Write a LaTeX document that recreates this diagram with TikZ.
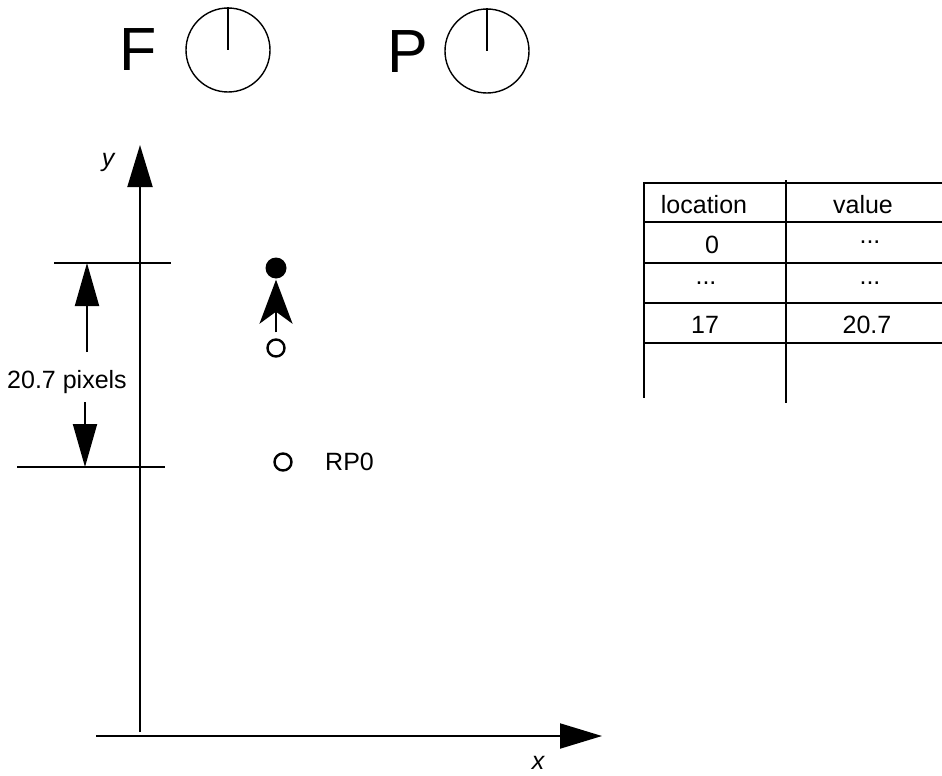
\documentclass[tikz,border=0pt]{standalone}
\usepackage{fontspec}
\setmainfont{Liberation Sans}
\usetikzlibrary{arrows.meta,calc,positioning}
\tikzset{
  label25/.style={
    inner sep=0pt,
    font=\fontsize{25}{30}\selectfont
  },
  bigletter/.style={
    inner sep=0pt,
    font=\fontsize{61}{70}\selectfont
  },
  dial/.style={
    circle,
    draw,
    line width=1.4pt,
    minimum size=84pt,
    inner sep=0pt
  },
  axis/.style={
    -{Triangle[length=42pt,width=25pt]},
    line width=2pt
  },
  dimarrow/.style={
    -{Triangle[length=43pt,width=24pt]},
    line width=2pt
  },
  movearrow/.style={
    -{Stealth[length=44pt,width=33pt,inset=12pt]},
    line width=2pt
  },
  rule/.style={
    line width=2pt
  },
  hollow/.style={
    circle,
    draw,
    line width=2.4pt,
    minimum size=17pt,
    inner sep=0pt
  },
  solid dot/.style={
    circle,
    fill,
    minimum size=21pt,
    inner sep=0pt
  }
}
\begin{document}
\begin{tikzpicture}[x=1pt,y=-1pt]
\useasboundingbox (0,0) rectangle (942,776);
% freedom and projection vectors
\node[bigletter] (F) at (138,50) {F};
\node[dial] (fdial) at (228,50) {};
\draw[line width=1.4pt] (fdial.center) -- (fdial.north);
\node[bigletter] (P) at (408,52) {P};
\node[dial] (pdial) at (487,51) {};
\draw[line width=1.4pt] (pdial.center) -- (pdial.north);
% axes
\coordinate (ybot) at (140,732);
\coordinate (ytop) at (140,145);
\coordinate (xleft) at (96,736);
\coordinate (xright) at (602,736);
\draw[axis] (ybot) -- (ytop);
\draw[axis] (xleft) -- (xright);
\node[label25,font=\fontsize{25}{30}\selectfont\itshape] (ylab) at (108,162) {y};
\node[label25,font=\fontsize{25}{30}\selectfont\itshape] (xlab) at (538,763) {x};
% distance marks
\coordinate (toplineL) at (54,263);
\coordinate (toplineR) at (171,263);
\coordinate (botlineL) at (17,467);
\coordinate (botlineR) at (165,467);
\draw[rule] (toplineL) -- (toplineR);
\draw[rule] (botlineL) -- (botlineR);
\node[label25,anchor=base] (dist) at (67,388) {20.7 pixels};
\coordinate (upstart) at (87,352);
\coordinate (uptip) at (87,263);
\coordinate (downstart) at (85,402);
\coordinate (downtip) at (85,467);
\draw[dimarrow] (upstart) -- (uptip);
\draw[dimarrow] (downstart) -- (downtip);
% points
\node[solid dot] (newpt) at (276,268) {};
\node[hollow] (oldpt) at (276,348) {};
\draw[movearrow,shorten <=6pt,shorten >=1pt] (oldpt.north) -- (newpt.south);
\node[hollow] (rp) at (283,462) {};
\node[label25,anchor=west] (rplab) at (325,462) {RP0};
% cvt table
\foreach \yy in {183,222,263,303,343}
  \draw[rule] (644,\yy) -- (942,\yy);
\coordinate (lefttop) at (644,182);
\coordinate (leftbot) at (644,398);
\coordinate (midtop) at (786,180);
\coordinate (midbot) at (786,403);
\draw[rule] (lefttop) -- (leftbot);
\draw[rule] (midtop) -- (midbot);
\node[label25,anchor=base] (loc) at (704,213) {location};
\node[label25,anchor=base] (val) at (863,213) {value};
\node[label25,anchor=base] (loczero) at (712,253) {0};
\node[label25] (valzero) at (870,242) {...};
\node[label25] (locdots) at (706,283) {...};
\node[label25] (valdots) at (870,283) {...};
\node[label25,anchor=base] (locseventeen) at (705,333) {17};
\node[label25,anchor=base] (valseventeen) at (867,333) {20.7};
\end{tikzpicture}
\end{document}
